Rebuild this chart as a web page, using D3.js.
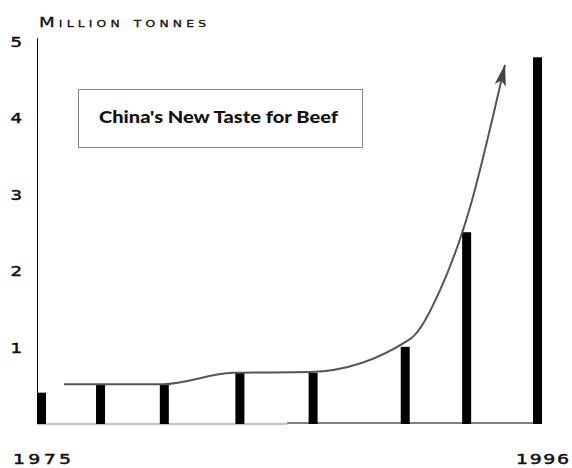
<!DOCTYPE html>
<html>
<head>
<meta charset="utf-8">
<script src="https://cdn.jsdelivr.net/npm/d3@7"></script>
<style>
  html, body { margin: 0; padding: 0; background: #fff; }
  svg { display: block; }
</style>
</head>
<body>
<svg id="chart" width="572" height="468"></svg>
<script>
// ---- data ----
const years = [1975, 1977.5, 1980.2, 1983.4, 1986.5, 1990.4, 1993, 1996];
const values = [0.41, 0.52, 0.52, 0.67, 0.67, 1.01, 2.51, 4.80];
const yTicks = [1, 2, 3, 4, 5];
const yearLabels = ["1975", "1996"];
const unitLabel = "Million tonnes";
const title = "China's New Taste for Beef";
// trend arrow
const trendYears  = [1975.95, 1980.14, 1983.11, 1986.37, 1990.60, 1991.87, 1993.23, 1994.08, 1994.62];
const trendValues = [0.52, 0.52, 0.67, 0.68, 1.11, 1.75, 2.93, 3.98, 4.70];

// ---- scales ----
const svg = d3.select("#chart");
svg.append("rect").attr("width", 572).attr("height", 468).attr("fill", "#fff");

const x = d3.scaleLinear().domain([1975, 1996]).range([41.5, 537.5]);
const y = d3.scaleLinear().domain([0, 5]).range([424, 42]);
const barW = 9;

// extended-looking text helper
function extText(g, str, px, py, sx, len, size, anchor, extra) {
  const grp = g.append("g").attr("transform", `translate(${px},${py}) scale(${sx},1)`);
  const t = grp.append("text")
    .attr("x", 0).attr("y", 0)
    .attr("font-family", "DejaVu Sans, sans-serif")
    .attr("font-size", size)
    .attr("fill", "#111")
    .attr("stroke", "#111")
    .attr("stroke-width", 0.45)
    .attr("text-anchor", anchor || "start")
    .text(str);
  if (len) t.attr("textLength", len / sx).attr("lengthAdjust", "spacing");
  if (extra) extra(t);
  return t;
}

// ---- axes ----
svg.append("line")
  .attr("x1", 37.5).attr("x2", 37.5)
  .attr("y1", y(5.05)).attr("y2", y(0))
  .attr("stroke", "#000").attr("stroke-width", 1);

svg.append("line")
  .attr("x1", 37).attr("x2", x(1985.4))
  .attr("y1", y(0)).attr("y2", y(0))
  .attr("stroke", "#888").attr("stroke-width", 1.2);
svg.append("line")
  .attr("x1", x(1985.4)).attr("x2", x(1996) + barW / 2)
  .attr("y1", y(0) - 1).attr("y2", y(0) - 1)
  .attr("stroke", "#000").attr("stroke-width", 1);

yTicks.forEach(v => {
  extText(svg, String(v), 22, y(v) + 5, 1.35, null, 13.5, "end");
});

extText(svg, yearLabels[0], 13, 464, 1.4, 58, 13.5, "start");
extText(svg, yearLabels[1], 516, 464, 1.4, 53, 13.5, "start");

extText(svg, unitLabel, 39, 27, 1.3, 167, 14, "start", t => t.attr("font-variant", "small-caps").attr("stroke-width", 0.3));

// ---- bars ----
svg.append("g").selectAll("rect")
  .data(years.map((yr, i) => ({ yr, v: values[i] })))
  .join("rect")
  .attr("x", d => x(d.yr) - barW / 2)
  .attr("width", barW)
  .attr("y", d => y(d.v))
  .attr("height", d => y(0) - y(d.v))
  .attr("fill", "#000");

// ---- trend arrow ----
const defs = svg.append("defs");
defs.append("marker")
  .attr("id", "arrowhead")
  .attr("viewBox", "0 0 24 12")
  .attr("markerUnits", "userSpaceOnUse")
  .attr("markerWidth", 24).attr("markerHeight", 12)
  .attr("refX", 22).attr("refY", 6)
  .attr("orient", "auto")
  .append("path")
  .attr("d", "M23,6 L1,0.3 L6,6 L1,11.7 Z")
  .attr("fill", "#444");

const line = d3.line()
  .x(d => x(d[0])).y(d => y(d[1]))
  .curve(d3.curveMonotoneX);

svg.append("path")
  .datum(trendYears.map((yr, i) => [yr, trendValues[i]]))
  .attr("d", line)
  .attr("fill", "none")
  .attr("stroke", "#555")
  .attr("stroke-width", 2)
  .attr("marker-end", "url(#arrowhead)");

// ---- title box ----
svg.append("rect")
  .attr("x", 78.5).attr("y", 89.5)
  .attr("width", 284).attr("height", 58)
  .attr("fill", "#fff")
  .attr("stroke", "#888").attr("stroke-width", 1);

svg.append("text")
  .attr("x", 99).attr("y", 123)
  .attr("font-family", "Lato, 'Open Sans', sans-serif")
  .attr("font-weight", "900")
  .attr("font-size", 16.5)
  .attr("fill", "#111")
  .attr("textLength", 239)
  .attr("lengthAdjust", "spacingAndGlyphs")
  .text(title);
</script>
</body>
</html>
